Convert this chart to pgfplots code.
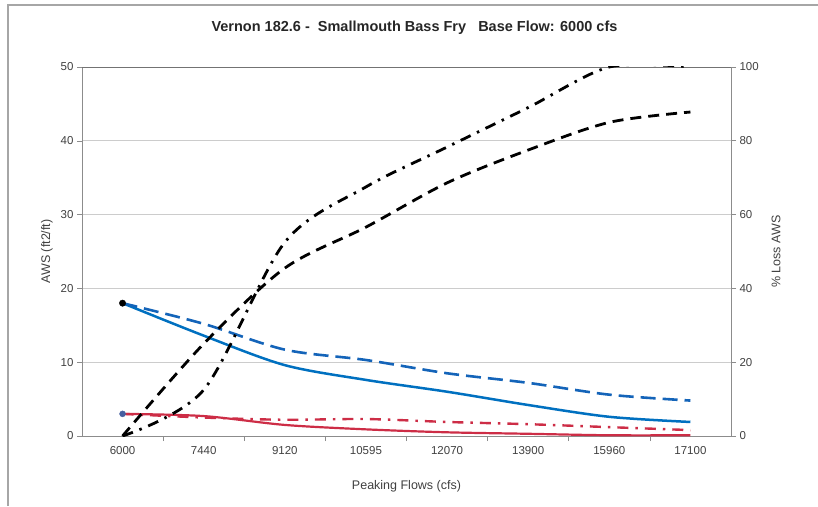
\documentclass[border=0pt]{standalone}
\usepackage{pgfplots}
\pgfplotsset{compat=1.18}
\usepackage{fontspec}
\setmainfont{Liberation Sans}

\definecolor{awsblue}{RGB}{0,112,192}
\definecolor{awsdblue}{RGB}{20,100,185}
\definecolor{awsred}{RGB}{205,45,70}
\definecolor{dotblue}{RGB}{70,95,160}

% common look of both axes
\pgfplotsset{
  vernon/.style={
    at={(82pt,70pt)}, anchor=south west,
    width=649pt, height=369pt, scale only axis,
    xmin=-0.5, xmax=7.5,
    tick align=outside,
    tick style={black!45, line width=0.6pt},
    major tick length=5pt,
    axis line style={black!45, line width=0.7pt},
    ticklabel style={font=\fontsize{11.5}{13}\selectfont, text=black!75},
    label style={font=\fontsize{12.5}{14}\selectfont, text=black!75},
    /pgf/number format/assume math mode=true,
  },
}

\begin{document}
\begin{tikzpicture}[x=1pt,y=1pt]
\path[use as bounding box] (0,0) rectangle (818,506);
\draw[black!35, line width=1.2pt] (8,0) -- (8,501) -- (818,501);

\begin{axis}[vernon,
  axis y line*=left, axis x line*=bottom,
  ymin=0, ymax=50, ytick={0,10,...,50},
  ymajorgrids, grid style={black!20, line width=0.7pt},
  xtick={0,...,7},
  xticklabels={6000,7440,9120,10595,12070,13900,15960,17100},
  major x tick style={draw=none},
  minor xtick={0.5,1.5,...,6.5},
  minor tick length=5pt,
  minor x tick style={black!45, line width=0.6pt},
  xticklabel style={yshift=-2pt},
  xlabel={Peaking Flows (cfs)},
  xlabel style={yshift=-19pt},
  ylabel={AWS (ft2/ft)},
  ylabel style={yshift=1pt},
  title={\textbf{Vernon 182.6 -\ \ Smallmouth Bass Fry\ \ \ Base Flow: 6000 cfs}},
  title style={at={(axis description cs:0.5,1)}, anchor=center, yshift=33pt, xshift=8pt,
    font=\fontsize{14.5}{16}\selectfont, text=black!85},
]
\draw[black!55, line width=0.8pt] (axis cs:-0.5,50) -- (axis cs:7.5,50);
% AWS, upper curve pair (blue)
\addplot[awsblue, line width=2.5pt, smooth] coordinates {
  (0,18) (1,13.6) (2,9.6) (3,7.6) (4,6.0) (5,4.2) (6,2.6) (7,1.9)};
\addplot[awsdblue, line width=2.6pt, smooth, dash pattern=on 15pt off 7pt] coordinates {
  (0,18) (1,15.2) (2,11.7) (3,10.3) (4,8.5) (5,7.2) (6,5.6) (7,4.8)};
% AWS, lower curve pair (red)
\addplot[awsred, line width=2.2pt, smooth] coordinates {
  (0,3) (1,2.7) (2,1.5) (3,0.9) (4,0.5) (5,0.3) (6,0.1) (7,0.1)};
\addplot[awsred, line width=2.4pt, smooth, dash pattern=on 11pt off 7pt on 2.5pt off 7pt] coordinates {
  (0,3) (1,2.5) (2,2.2) (3,2.3) (4,1.9) (5,1.6) (6,1.2) (7,0.8)};
\addplot[only marks, mark=*, mark size=3.2pt, black] coordinates {(0,18)};
\addplot[only marks, mark=*, mark size=3pt, dotblue] coordinates {(0,3)};
\end{axis}

\begin{axis}[vernon,
  axis y line*=right, axis x line=none,
  ymin=0, ymax=100, ytick={0,20,...,100},
  ylabel={\% Loss AWS},
  ylabel style={yshift=-6pt},
]
% percent loss (black)
\addplot[black, line width=2.8pt, smooth, dash pattern=on 11pt off 7pt] coordinates {
  (0,0) (1,25) (2,45.5) (3,56.6) (4,68.6) (5,77.5) (6,85) (7,87.8)};
\addplot[black, line width=2.8pt, smooth, dash pattern=on 11pt off 7pt on 2.5pt off 7pt] coordinates {
  (0,0) (1,12.5) (2,52.5) (3,67.5) (4,78.3) (5,89) (6,100) (7,100)};
\end{axis}
\end{tikzpicture}
\end{document}
